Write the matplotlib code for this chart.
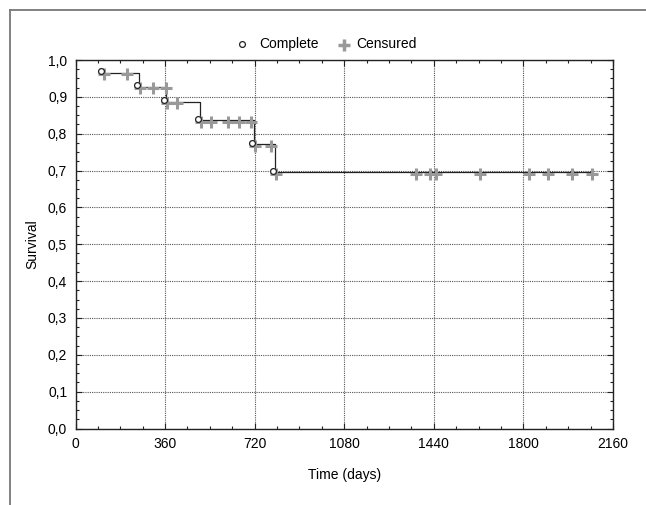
import matplotlib
matplotlib.use("Agg")
import matplotlib.pyplot as plt
import matplotlib.transforms as mtransforms
from matplotlib.lines import Line2D
from matplotlib.ticker import MultipleLocator, FuncFormatter

plt.rcParams['font.family'] = ['Liberation Sans', 'DejaVu Sans']

# ---- data ----
event_times = [110, 255, 362, 500, 717, 800]
event_surv = [0.966, 0.927, 0.887, 0.836, 0.771, 0.696]
end_time = 2070

censored_times = [200, 306, 357, 402, 539, 606, 653, 700, 780,
                  1361, 1417, 1442, 1621, 1818, 1893, 1990, 2070]
censored_surv = [0.966, 0.927, 0.927, 0.887, 0.836, 0.836, 0.836, 0.836, 0.771,
                 0.696, 0.696, 0.696, 0.696, 0.696, 0.696, 0.696, 0.696]

x_ticks = [0, 360, 720, 1080, 1440, 1800, 2160]
y_ticks = [0.0, 0.1, 0.2, 0.3, 0.4, 0.5, 0.6, 0.7, 0.8, 0.9, 1.0]

W, H = 646, 505
fig = plt.figure(figsize=(W / 100, H / 100), dpi=100)
ax = fig.add_axes([75.5 / W, 1 - 428.5 / H, (613 - 75.5) / W, (428.5 - 60) / H])

ax.set_xlim(0, 2160)
ax.set_ylim(0, 1.0)
ax.set_xticks(x_ticks)
ax.set_yticks(y_ticks)
ax.xaxis.set_minor_locator(MultipleLocator(90))
ax.yaxis.set_minor_locator(MultipleLocator(0.025))
ax.grid(True, which='major', color='#555555', linestyle=(0, (1, 1)), linewidth=0.8)
ax.set_axisbelow(True)

ax.yaxis.set_major_formatter(FuncFormatter(lambda v, p: f"{v:.1f}".replace('.', ',')))
ax.xaxis.set_major_formatter(FuncFormatter(lambda v, p: f"{int(round(v))}"))

ax.tick_params(which='both', direction='in', top=True, right=True, color='#222222')
ax.tick_params(which='major', length=4, width=0.8, labelsize=10, pad=6)
ax.tick_params(which='minor', length=2.5, width=0.8)
for s in ax.spines.values():
    s.set_color('#222222')
    s.set_linewidth(1.0)

# step line
ax.step(event_times + [end_time], event_surv + [event_surv[-1]], where='post',
        color='#222222', linewidth=0.9, zorder=3)

off_circ = mtransforms.offset_copy(ax.transData, fig=fig, x=-1.5, y=1.5, units='dots')
off_cross = mtransforms.offset_copy(ax.transData, fig=fig, x=1.5, y=-1.5, units='dots')

cross_color = '#999999'
# crosses drawn at event points (as in reference) and at censored times
ax.plot(event_times, event_surv, linestyle='none', marker='+', markersize=8,
        markeredgewidth=2.2, color=cross_color, transform=off_cross, zorder=4)
ax.plot(censored_times, censored_surv, linestyle='none', marker='+', markersize=8,
        markeredgewidth=2.2, color=cross_color, transform=off_cross, zorder=4)
ax.plot(event_times, event_surv, linestyle='none', marker='o', markersize=4.2,
        markerfacecolor='white', markeredgecolor='#222222', markeredgewidth=0.9,
        transform=off_circ, zorder=5)

ax.set_xlabel('Time (days)', fontsize=10, labelpad=12)
ax.set_ylabel('Survival', fontsize=10, labelpad=6)

# legend (manual, figure pixels)
def fx(px):
    return px / W

def fy(py):
    return 1 - py / H

fig.add_artist(Line2D([fx(242)], [fy(44)], marker='o', markersize=4.2,
                      markerfacecolor='white', markeredgecolor='#222222',
                      markeredgewidth=0.9, linestyle='none'))
fig.text(fx(259), fy(44), 'Complete', fontsize=10, va='center', ha='left')
fig.add_artist(Line2D([fx(344)], [fy(45)], marker='+', markersize=9,
                      markeredgewidth=2.5, color=cross_color, linestyle='none'))
fig.text(fx(356), fy(44), 'Censured', fontsize=10, va='center', ha='left')

# outer frame (left and top only visible)
fig.add_artist(Line2D([fx(9.5), fx(9.5)], [0, fy(10)], color='#777777', linewidth=1.3))
fig.add_artist(Line2D([fx(9.5), 1], [fy(10), fy(10)], color='#777777', linewidth=1.3))

fig.savefig('out.png', dpi=100)
